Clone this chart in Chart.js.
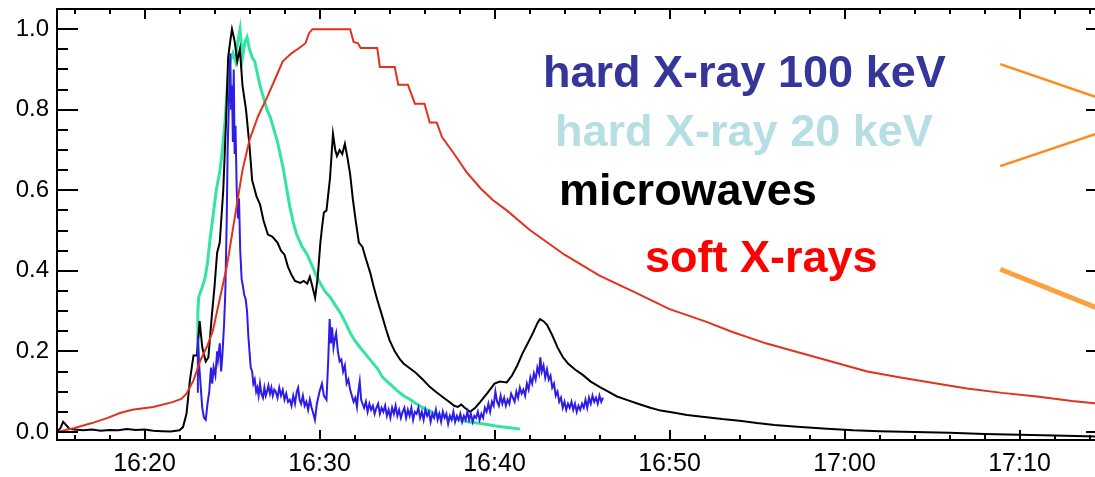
<!DOCTYPE html>
<html>
<head>
<meta charset="utf-8">
<script src="https://cdn.jsdelivr.net/npm/chart.js@4.4.1/dist/chart.umd.min.js"></script>
<style>
  html, body { margin: 0; padding: 0; background: #fff; overflow: hidden; }
  #wrap { width: 1095px; height: 477px; overflow: hidden; }
</style>
</head>
<body>
<div id="wrap"><canvas id="flare" width="1120" height="477"></canvas></div>
<script>
// time in minutes after 16:00 UT, flux normalised to its own maximum
const xTicks = [20, 30, 40, 50, 60, 70];
const yTicks = [0, 0.2, 0.4, 0.6, 0.8, 1.0];

const softXrays = [
  [15.0,0.0],[16.0,0.01],[17.0,0.022],[17.9,0.035],[18.6,0.047],[19.3,0.055],[20.5,0.062],
  [21.6,0.074],[22.1,0.082],[22.4,0.095],[22.8,0.128],[23.2,0.178],[23.6,0.215],[23.9,0.25],
  [24.3,0.33],[24.7,0.41],[25.0,0.49],[25.3,0.57],[25.6,0.65],[26.0,0.725],[26.5,0.785],
  [27.0,0.83],[27.5,0.88],[27.9,0.92],[28.4,0.94],[28.9,0.955],[29.2,0.965],[29.4,0.99],
  [29.6,1.0],[31.75,1.0],[31.95,0.968],[32.2,0.965],[32.35,0.953],[33.3,0.953],[33.45,0.906],
  [34.3,0.906],[34.5,0.862],[35.05,0.862],[35.45,0.815],[36.0,0.815],[36.3,0.768],[36.7,0.768],
  [37.0,0.732],[37.7,0.69],[38.4,0.645],[39.2,0.605],[39.9,0.576],[40.7,0.55],[42.0,0.502],
  [44.0,0.44],[46.0,0.388],[48.0,0.347],[50.0,0.305],[52.0,0.275],[53.6,0.248],[55.5,0.22],
  [57.5,0.196],[59.5,0.172],[61.3,0.15],[63.2,0.135],[65.0,0.122],[67.0,0.108],[69.0,0.097],
  [71.0,0.088],[73.0,0.077],[75.0,0.068]
];

const microwaves = [
  [15.0,0.0],[15.2,0.01],[15.35,0.025],[15.5,0.018],[15.7,0.008],[16.0,0.006],[16.5,0.004],
  [17.0,0.006],[17.5,0.003],[18.0,0.005],[18.5,0.004],[19.0,0.007],[19.5,0.005],[20.0,0.006],
  [20.5,0.003],[21.0,0.002],[21.5,0.001],[22.0,0.004],[22.2,0.012],[22.4,0.045],[22.6,0.13],
  [22.8,0.19],[23.0,0.19],[23.15,0.275],[23.3,0.21],[23.5,0.175],[23.65,0.185],[23.85,0.29],
  [24.0,0.36],[24.15,0.445],[24.3,0.47],[24.5,0.6],[24.65,0.76],[24.78,0.93],[24.9,0.97],
  [25.0,1.0],[25.15,0.97],[25.3,0.92],[25.45,0.95],[25.6,0.86],[25.8,0.8],[26.0,0.71],
  [26.15,0.625],[26.4,0.585],[26.6,0.565],[26.8,0.525],[27.05,0.49],[27.3,0.485],[27.6,0.47],
  [27.8,0.45],[28.0,0.44],[28.2,0.41],[28.4,0.39],[28.6,0.375],[28.9,0.37],[29.1,0.375],
  [29.3,0.368],[29.45,0.385],[29.6,0.36],[29.75,0.333],[29.9,0.385],[30.05,0.47],[30.15,0.51],
  [30.25,0.545],[30.4,0.55],[30.6,0.63],[30.77,0.74],[30.9,0.7],[31.0,0.685],[31.15,0.7],
  [31.3,0.69],[31.45,0.715],[31.6,0.68],[31.75,0.64],[31.9,0.58],[32.05,0.53],[32.25,0.47],
  [32.45,0.46],[32.65,0.43],[32.9,0.395],[33.1,0.36],[33.3,0.328],[33.6,0.285],[33.8,0.255],
  [34.0,0.228],[34.3,0.2],[34.6,0.18],[34.8,0.17],[35.1,0.16],[35.5,0.147],[35.9,0.13],
  [36.3,0.112],[36.7,0.098],[37.0,0.088],[37.4,0.075],[37.7,0.065],[37.9,0.062],[38.1,0.068],
  [38.3,0.06],[38.6,0.05],[38.9,0.06],[39.2,0.075],[39.6,0.097],[40.0,0.12],[40.3,0.125],
  [40.7,0.123],[41.0,0.14],[41.3,0.165],[41.6,0.195],[41.9,0.22],[42.2,0.246],[42.45,0.27],
  [42.6,0.28],[42.8,0.275],[43.0,0.266],[43.3,0.24],[43.6,0.21],[43.9,0.186],[44.2,0.17],
  [44.6,0.155],[45.06,0.141],[45.5,0.125],[46.0,0.112],[46.5,0.1],[47.0,0.088],[47.6,0.079],
  [48.2,0.07],[48.9,0.06],[49.5,0.053],[50.2,0.048],[51.0,0.042],[52.0,0.037],[53.0,0.032],
  [54.0,0.028],[55.0,0.022],[56.0,0.017],[57.5,0.012],[59.0,0.008],[60.5,0.004],[62.0,0.002],
  [64.0,0.0],[66.0,-0.002],[68.0,-0.005],[70.0,-0.007],[72.0,-0.009],[75.0,-0.012]
];

const hardXray20 = [
  [23.0,0.196],[23.05,0.3],[23.1,0.335],[23.3,0.36],[23.45,0.38],[23.6,0.42],[23.75,0.48],
  [23.9,0.53],[24.1,0.6],[24.3,0.645],[24.45,0.7],[24.6,0.77],[24.77,0.88],[24.9,0.92],
  [25.06,0.94],[25.2,0.92],[25.3,0.96],[25.46,1.0],[25.6,0.93],[25.75,0.97],[25.86,0.98],
  [26.0,0.95],[26.15,0.93],[26.3,0.92],[26.45,0.89],[26.6,0.86],[26.8,0.83],[27.0,0.8],
  [27.2,0.78],[27.4,0.75],[27.6,0.72],[27.9,0.66],[28.1,0.61],[28.3,0.56],[28.5,0.52],
  [28.7,0.49],[29.0,0.46],[29.3,0.44],[29.5,0.42],[29.8,0.39],[30.03,0.37],[30.3,0.35],
  [30.6,0.335],[30.9,0.315],[31.2,0.295],[31.5,0.27],[31.75,0.246],[32.0,0.228],[32.3,0.211],
  [32.6,0.195],[32.9,0.179],[33.3,0.158],[33.6,0.136],[34.0,0.12],[34.4,0.104],[34.8,0.09],
  [35.2,0.08],[35.6,0.068],[36.0,0.058],[36.5,0.048],[36.9,0.042],[37.4,0.035],[37.9,0.031],
  [38.4,0.026],[39.0,0.022],[39.5,0.019],[39.9,0.016],[40.5,0.012],[41.0,0.01],[41.46,0.007]
];

const hardXray100 = [
  [23.0,0.10],[23.05,0.235],[23.12,0.17],[23.2,0.12],[23.3,0.06],[23.4,0.035],[23.5,0.03],
  [23.6,0.07],[23.7,0.1],[23.8,0.16],[23.87,0.12],[23.95,0.16],[24.05,0.14],[24.15,0.2],
  [24.2,0.18],[24.3,0.22],[24.38,0.15],[24.45,0.19],[24.55,0.27],[24.62,0.35],[24.7,0.53],
  [24.75,0.7],[24.8,0.78],[24.85,0.86],[24.9,0.94],[24.95,0.8],[25.0,0.86],[25.05,0.72],
  [25.1,0.9],[25.15,0.69],[25.2,0.76],[25.27,0.6],[25.34,0.53],[25.4,0.58],[25.47,0.45],
  [25.55,0.38],[25.63,0.36],[25.7,0.34],[25.78,0.33],[25.86,0.3],[25.93,0.24],[26.0,0.2],
  [26.07,0.16],[26.15,0.15],[26.22,0.12],[26.3,0.13],[26.38,0.1],[26.45,0.11],[26.52,0.09],
  [26.6,0.12],[26.68,0.095],[26.77,0.085],[26.85,0.11],[26.93,0.09],[27.0,0.1],[27.08,0.115],
  [27.17,0.095],[27.25,0.11],[27.33,0.09],[27.42,0.105],[27.5,0.1],[27.6,0.085],[27.7,0.11],
  [27.8,0.09],[27.9,0.104],[28.0,0.08],[28.1,0.095],[28.2,0.075],[28.3,0.08],[28.4,0.065],
  [28.5,0.09],[28.6,0.07],[28.7,0.1],[28.78,0.11],[28.86,0.08],[28.95,0.07],[29.05,0.09],
  [29.15,0.065],[29.25,0.075],[29.35,0.055],[29.45,0.08],[29.55,0.06],[29.65,0.045],[29.74,0.03],
  [29.85,0.07],[30.0,0.1],[30.14,0.12],[30.25,0.09],[30.4,0.08],[30.5,0.18],[30.58,0.28],
  [30.65,0.22],[30.72,0.26],[30.8,0.21],[30.87,0.23],[30.95,0.245],[31.05,0.2],[31.15,0.175],
  [31.25,0.18],[31.35,0.15],[31.45,0.165],[31.55,0.12],[31.65,0.13],[31.75,0.105],[31.85,0.09],
  [31.95,0.075],[32.05,0.085],[32.14,0.062],[32.22,0.1],[32.3,0.125],[32.38,0.08],[32.46,0.07],
  [32.55,0.06],[32.65,0.075],[32.75,0.05],[32.85,0.07],[32.95,0.055],[33.05,0.065],[33.15,0.045],
  [33.25,0.06],[33.35,0.07],[33.45,0.045],[33.55,0.06],[33.65,0.05],[33.75,0.065],[33.85,0.04],
  [33.95,0.055],[34.05,0.035],[34.15,0.06],[34.25,0.045],[34.35,0.065],[34.45,0.04],[34.55,0.055],
  [34.65,0.035],[34.75,0.05],[34.85,0.06],[34.95,0.035],[35.05,0.055],[35.15,0.04],[35.25,0.06],
  [35.35,0.03],[35.45,0.05],[35.55,0.045],[35.65,0.06],[35.75,0.035],[35.85,0.05],[35.95,0.03],
  [36.05,0.055],[36.15,0.04],[36.25,0.05],[36.35,0.025],[36.45,0.045],[36.55,0.035],[36.65,0.055],
  [36.75,0.03],[36.85,0.045],[36.95,0.025],[37.05,0.05],[37.15,0.035],[37.25,0.045],[37.35,0.02],
  [37.45,0.04],[37.55,0.03],[37.65,0.05],[37.75,0.025],[37.85,0.04],[37.95,0.03],[38.05,0.045],
  [38.15,0.025],[38.25,0.04],[38.35,0.03],[38.45,0.05],[38.55,0.03],[38.65,0.045],[38.75,0.025],
  [38.85,0.04],[38.95,0.035],[39.05,0.05],[39.15,0.03],[39.25,0.045],[39.35,0.035],[39.45,0.06],
  [39.55,0.05],[39.65,0.07],[39.75,0.05],[39.85,0.075],[39.95,0.065],[40.05,0.1],[40.15,0.075],
  [40.25,0.065],[40.35,0.09],[40.45,0.07],[40.55,0.085],[40.65,0.065],[40.75,0.08],[40.85,0.07],
  [40.95,0.095],[41.05,0.085],[41.15,0.075],[41.25,0.1],[41.35,0.085],[41.45,0.11],[41.55,0.095],
  [41.65,0.105],[41.75,0.09],[41.85,0.12],[41.95,0.105],[42.05,0.135],[42.15,0.12],[42.25,0.145],
  [42.35,0.13],[42.45,0.16],[42.55,0.145],[42.62,0.185],[42.7,0.15],[42.8,0.165],[42.9,0.135],
  [43.0,0.155],[43.1,0.13],[43.2,0.14],[43.3,0.11],[43.4,0.12],[43.5,0.09],[43.6,0.1],
  [43.7,0.075],[43.8,0.085],[43.9,0.06],[44.0,0.075],[44.1,0.055],[44.2,0.07],[44.3,0.06],
  [44.4,0.075],[44.5,0.055],[44.6,0.07],[44.7,0.05],[44.8,0.065],[44.9,0.055],[45.0,0.07],
  [45.1,0.06],[45.2,0.08],[45.3,0.06],[45.4,0.085],[45.5,0.07],[45.6,0.09],[45.7,0.075],
  [45.8,0.085],[45.9,0.07],[46.0,0.09],[46.1,0.075],[46.2,0.085]
];

// pointer strokes on the right-hand side
const pointerA = [[68.9,0.913],[75.0,0.822]];
const pointerB = [[68.9,0.660],[75.0,0.749]];
const pointerC = [[68.9,0.404],[75.0,0.298]];

const fontFamily = "'Liberation Sans', Arial, Helvetica, sans-serif";

const toXY = (pairs) => pairs.map((p) => ({ x: p[0], y: p[1] }));

function clock(minutes) {
  const h = 16 + Math.floor(minutes / 60);
  const m = minutes % 60;
  return h + ":" + String(m).padStart(2, "0");
}

function serie(data, color, width) {
  return {
    data: toXY(data),
    borderColor: color,
    borderWidth: width,
    pointRadius: 0,
    showLine: true,
    tension: 0,
    fill: false
  };
}

// IDL-style frame: box on four sides with inward major/minor ticks
const frame = {
  id: "frame",
  afterDatasetsDraw(chart) {
    const { ctx, chartArea: a, scales } = chart;
    const x = scales.x, y = scales.y;
    ctx.save();
    ctx.strokeStyle = "#000";
    ctx.lineWidth = 2;
    ctx.beginPath();
    ctx.moveTo(a.left, a.top);
    ctx.lineTo(a.right, a.top);
    ctx.lineTo(a.right, a.bottom);
    ctx.stroke();

    ctx.beginPath();
    for (let m = 16; m < 75; m += 2) {
      const px = Math.round(x.getPixelForValue(m));
      const len = m % 10 === 0 ? 10 : 5;
      ctx.moveTo(px, a.bottom);
      ctx.lineTo(px, a.bottom - len);
      ctx.moveTo(px, a.top);
      ctx.lineTo(px, a.top + len);
    }
    for (let i = 0; i <= 20; i++) {
      const py = Math.round(y.getPixelForValue(i * 0.05));
      const len = i % 4 === 0 ? 21 : 11;
      ctx.moveTo(a.left, py);
      ctx.lineTo(a.left + len, py);
      ctx.moveTo(a.right, py);
      ctx.lineTo(a.right - len, py);
    }
    ctx.stroke();
    ctx.restore();
  }
};

// series names written inside the plot
const notes = {
  id: "notes",
  afterDatasetsDraw(chart) {
    const { ctx, scales } = chart;
    const items = [
      { text: "hard X-ray 100 keV", color: "#35359a", at: [42.77, 0.856] },
      { text: "hard X-ray 20 keV", color: "#b6dfe3", at: [43.46, 0.710] },
      { text: "microwaves", color: "#000000", at: [43.69, 0.563] },
      { text: "soft X-rays", color: "#ff0000", at: [48.6, 0.397] }
    ];
    ctx.save();
    ctx.font = "bold 45px " + fontFamily;
    ctx.textAlign = "left";
    ctx.textBaseline = "alphabetic";
    items.forEach((it) => {
      ctx.fillStyle = it.color;
      ctx.fillText(it.text, scales.x.getPixelForValue(it.at[0]), scales.y.getPixelForValue(it.at[1]));
    });
    ctx.restore();
  }
};

new Chart(document.getElementById("flare"), {
  type: "scatter",
  data: {
    datasets: [
      serie(softXrays, "#e2321c", 2),
      serie(hardXray100, "#2d1de6", 2),
      serie(microwaves, "#000000", 2),
      serie(hardXray20, "#35e3a3", 3),
      serie(pointerA, "#ff8a1a", 2.5),
      serie(pointerB, "#ff8a1a", 2.5),
      serie(pointerC, "#ffa040", 5)
    ]
  },
  options: {
    responsive: false,
    animation: false,
    layout: { padding: { top: 9, right: 13, left: 0, bottom: 0 } },
    plugins: { legend: { display: false }, tooltip: { enabled: false } },
    scales: {
      x: {
        type: "linear",
        min: 15,
        max: 75,
        afterBuildTicks: (s) => { s.ticks = xTicks.map((v) => ({ value: v })); },
        afterFit: (s) => { s.height = 37; s.paddingLeft = 0; s.paddingRight = 0; },
        grid: { display: false, drawTicks: false },
        border: { display: true, color: "#000", width: 2 },
        ticks: {
          autoSkip: false,
          maxRotation: 0,
          padding: 9,
          color: "#000",
          font: { family: fontFamily, size: 25 },
          callback: (v) => clock(v)
        }
      },
      y: {
        min: -0.02,
        max: 1.05,
        afterBuildTicks: (s) => { s.ticks = yTicks.map((v) => ({ value: v })); },
        afterFit: (s) => { s.width = 57; s.paddingTop = 0; s.paddingBottom = 0; },
        grid: { display: false, drawTicks: false },
        border: { display: true, color: "#000", width: 2 },
        ticks: {
          padding: 8,
          color: "#000",
          font: { family: fontFamily, size: 24 },
          callback: (v) => v.toFixed(1)
        }
      }
    }
  },
  plugins: [frame, notes]
});
</script>
</body>
</html>
